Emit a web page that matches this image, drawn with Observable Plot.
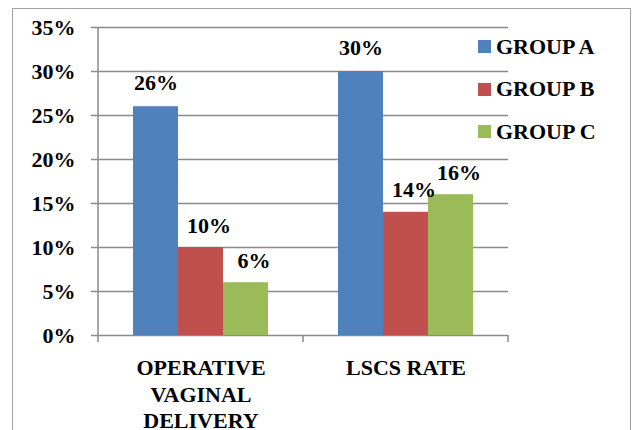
<!DOCTYPE html>
<html>
<head>
<meta charset="utf-8">
<script src="https://cdn.jsdelivr.net/npm/d3@7"></script>
<script src="https://cdn.jsdelivr.net/npm/@observablehq/plot@0.6"></script>
</head>
<body style="margin:0;padding:0;background:#fff">
<div id="wrap" style="position:relative;width:633px;height:430px;overflow:hidden;font-family:'Times New Roman'">
  <div id="chart" style="position:absolute;left:0;top:0"></div>
  <div id="border" style="position:absolute;left:12px;top:8px;width:619px;height:460px;border:1.5px solid #a3a3a3;box-sizing:border-box;pointer-events:none"></div>
  <div id="legend" style="position:absolute;left:478px;top:25.5px"></div>
</div>
<script>
const categories = ["OPERATIVE VAGINAL DELIVERY", "LSCS RATE"];
const categoryLabels = ["OPERATIVE\nVAGINAL\nDELIVERY", "LSCS RATE"];
const groups = ["GROUP A", "GROUP B", "GROUP C"];
const groupA = [26, 30];
const groupB = [10, 14];
const groupC = [6, 16];
const colors = ["#4f81bd", "#c0504d", "#9bbb59"];
const yTicks = [0, 5, 10, 15, 20, 25, 30, 35];

const seriesValues = [groupA, groupB, groupC];
const data = [];
categories.forEach((c, i) => {
  groups.forEach((g, j) => data.push({category: c, group: g, value: seriesValues[j][i]}));
});
const labelOf = new Map(categories.map((c, i) => [c, categoryLabels[i]]));
const grey = "#8a8a8a";
const serif = "'Times New Roman', 'Liberation Serif', Tinos, serif";

const chart = Plot.plot({
  width: 633,
  height: 430,
  marginLeft: 98,
  marginRight: 125,
  marginTop: 27,
  marginBottom: 95,
  style: {fontFamily: serif, fontSize: "22px", fontWeight: "bold", background: "transparent", color: "#000"},
  fx: {domain: categories, padding: 0, label: null},
  x: {domain: groups, paddingInner: 0, paddingOuter: 0.76, axis: null},
  y: {domain: [0, 35], axis: null},
  color: {domain: groups, range: colors},
  marks: [
    Plot.gridY(yTicks, {stroke: grey, strokeOpacity: 1, strokeWidth: 1.5}),
    Plot.barY(data, {fx: "category", x: "group", y: "value", fill: "group"}),
    Plot.text(data.filter(d => d.group === groups[0]), {fx: "category", x: "group", y: "value", text: d => d.value + "%", dy: -24, fontSize: 22, fontWeight: "bold", fontFamily: serif, fill: "#000"}),
    Plot.text(data.filter(d => d.group !== groups[0]), {fx: "category", x: "group", y: "value", text: d => d.value + "%", dy: -22, dx: 8, fontSize: 22, fontWeight: "bold", fontFamily: serif, fill: "#000"}),
    Plot.axisY(yTicks, {tickFormat: d => d + "%", tickSize: 7, tickPadding: 16, stroke: grey, strokeWidth: 1.5, fontSize: 22, fontWeight: "bold", fontFamily: serif, label: null}),
    Plot.axisFx({anchor: "bottom", tickSize: 0, tickPadding: 21, tickFormat: d => labelOf.get(d), fontSize: 22, fontWeight: "bold", fontFamily: serif, lineHeight: 1.2, label: null})
  ]
});
document.getElementById("chart").appendChild(chart);

// axis line and category boundary ticks from the library's scales
const fx = chart.scale("fx");
const y = chart.scale("y");
const y0 = y.apply(0), yTop = y.apply(35);
const bounds = fx.domain.map(c => fx.apply(c));
bounds.push(bounds[bounds.length - 1] + fx.bandwidth);
const svg = d3.select(chart);
const g = svg.append("g").attr("stroke", grey).attr("stroke-width", 1.5);
g.append("line").attr("x1", bounds[0]).attr("x2", bounds[0]).attr("y1", yTop).attr("y2", y0 + 7);
bounds.slice(1).forEach(b => g.append("line").attr("x1", b).attr("x2", b).attr("y1", y0).attr("y2", y0 + 7));

// legend
const legend = d3.select("#legend");
groups.forEach((gname, i) => {
  const it = legend.append("div").style("display", "flex").style("align-items", "center").style("height", "42.5px");
  it.append("div").style("width", "13px").style("height", "13px").style("margin-right", "5px").style("background", colors[i]);
  it.append("div").style("font-size", "22px").style("font-weight", "bold").style("line-height", "1").style("color", "#000").style("white-space", "nowrap").text(gname);
});

function applySerif() {
  document.querySelectorAll("#wrap, #wrap *").forEach(el => {
    if (el.style.getPropertyValue("font-family") !== serif || el.style.getPropertyPriority("font-family") !== "important") {
      el.style.setProperty("font-family", serif, "important");
    }
    if (el.tagName === "text" && el.getAttribute("font-family") !== serif) el.setAttribute("font-family", serif);
  });
}
applySerif();
const st = document.createElement("style");
st.textContent = `#wrap, #wrap * { font-family: ${serif} !important; }`;
document.head.appendChild(st);
new MutationObserver(() => applySerif()).observe(document.documentElement, {subtree: true, attributes: true, childList: true, attributeFilter: ["style", "font-family", "class"]});
setTimeout(applySerif, 0);
requestAnimationFrame(applySerif);
window.addEventListener("load", applySerif);
</script>
</body>
</html>
